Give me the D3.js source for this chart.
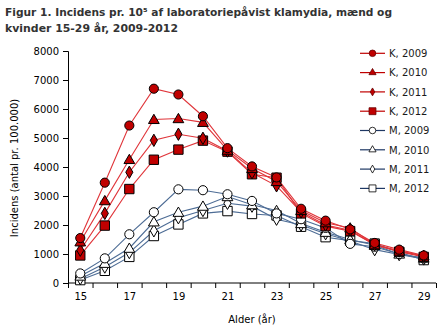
<!DOCTYPE html>
<html><head><meta charset="utf-8">
<script src="https://cdn.jsdelivr.net/npm/d3@7/dist/d3.min.js"></script>
<style>
body{margin:0;background:#fff;}
svg{display:block;font-family:"DejaVu Sans",Verdana,sans-serif;}
</style></head>
<body><svg id="c" width="440" height="331"></svg>
<script>
const ages = [15,16,17,18,19,20,21,22,23,24,25,26,27,28,29];
const yTicks = [0,1000,2000,3000,4000,5000,6000,7000,8000];
const xTickLabels = [15,17,19,21,23,25,27,29];
const seriesNames = ["K, 2009","K, 2010","K, 2011","K, 2012","M, 2009","M, 2010","M, 2011","M, 2012"];
const K2009 = [1550,3460,5430,6700,6500,5750,4650,4020,3640,2560,2150,1850,1380,1150,950];
const K2010 = [1420,2840,4260,5640,5670,5540,4580,3950,3500,2500,2080,1900,1320,1100,940];
const K2011 = [1130,2400,3820,4920,5130,4990,4550,3800,3350,2450,2000,1820,1320,1100,920];
const K2012 = [950,1980,3240,4250,4600,4910,4530,3750,3630,2400,1960,1790,1320,1080,900];
const M2009 = [330,850,1680,2440,3230,3200,3060,2830,2400,2200,1900,1350,1250,1000,850];
const M2010 = [240,680,1200,2110,2440,2650,2980,2700,2500,2050,1750,1500,1300,1000,860];
const M2011 = [150,550,1050,1800,2250,2500,2750,2650,2200,2000,1700,1450,1150,980,830];
const M2012 = [100,420,900,1620,2020,2400,2480,2380,2330,1940,1580,1460,1360,1060,790];
const allValues = [K2009,K2010,K2011,K2012,M2009,M2010,M2011,M2012];
const shapes = ["circle","triangle","diamond","square","circle","triangle","diamond","square"];

const svg = d3.select("#c");
const x = d3.scaleLinear().domain([14.5,29.5]).range([68,436]);
const y = d3.scaleLinear().domain([0,8000]).range([283,51]);

// title
svg.append("text").attr("fill","#333").attr("font-weight","bold").attr("font-size",10.5)
  .attr("x",5).attr("y",16).attr("textLength",387).attr("lengthAdjust","spacingAndGlyphs")
  .text("Figur 1. Incidens pr. 10⁵ af laboratoriepåvist klamydia, mænd og");
svg.append("text").attr("fill","#333").attr("font-weight","bold").attr("font-size",10.5)
  .attr("x",5).attr("y",32).attr("textLength",173).attr("lengthAdjust","spacingAndGlyphs")
  .text("kvinder 15-29 år, 2009-2012");

// y axis
const ya = svg.append("g").attr("transform","translate(68,0)")
  .call(d3.axisLeft(y).tickValues(yTicks).tickSize(5).tickPadding(4).tickFormat(d3.format("d")));
ya.select(".domain").attr("stroke","#000");
ya.selectAll(".tick line").attr("stroke","#000");
ya.selectAll("text").attr("font-size",10).attr("fill","#000").attr("font-family","DejaVu Sans");

// x axis
const edges = d3.range(14.5,29.6,1);
const xa = svg.append("g").attr("transform","translate(0,283)")
  .call(d3.axisBottom(x).tickValues(edges).tickSize(5).tickFormat(""));
xa.select(".domain").attr("stroke","#000").attr("d","M68,0H436");
xa.selectAll(".tick line").attr("stroke","#000");
const xl = svg.append("g").attr("transform","translate(0,283)")
  .call(d3.axisBottom(x).tickValues(xTickLabels).tickSize(0).tickPadding(10).tickFormat(d3.format("d")));
xl.select(".domain").remove();
xl.selectAll("text").attr("font-size",10).attr("fill","#000").attr("font-family","DejaVu Sans");

svg.append("text").attr("x",252).attr("y",323).attr("text-anchor","middle")
  .attr("font-size",10).attr("fill","#000").text("Alder (år)");
svg.append("text").attr("transform","translate(18,168) rotate(-90)").attr("text-anchor","middle")
  .attr("font-size",10).attr("fill","#000").text("Incidens (antal pr. 100.000)");

const symType = {circle:d3.symbolCircle,triangle:d3.symbolTriangle,diamond:d3.symbolDiamond,square:d3.symbolSquare};
const symSize = {circle:66,triangle:50,diamond:44,square:88};
const legSize = {circle:34,triangle:22,diamond:18,square:48};

const line = d3.line().x((d,i)=>x(ages[i])).y(d=>y(d));
const plot = svg.append("g");
// M series first (behind), then K
const order = [7,6,5,4,3,2,1,0];
order.forEach(si=>{
  const isK = si<4;
  plot.append("path").datum(allValues[si]).attr("d",line)
    .attr("fill","none").attr("stroke",isK?"#e0353a":"#4d6c95").attr("stroke-width",1.1);
});
order.forEach(si=>{
  const isK = si<4;
  const sh = shapes[si];
  plot.append("g").selectAll("path").data(allValues[si]).join("path")
    .attr("transform",(d,i)=>`translate(${x(ages[i])},${y(d)+(sh==="triangle"?1:0)})`)
    .attr("d",d3.symbol().type(symType[sh]).size(symSize[sh]))
    .attr("fill",isK?"#c00000":"#fff").attr("stroke","#000").attr("stroke-width",1);
});

// legend
const leg = svg.append("g");
seriesNames.forEach((nm,i)=>{
  const isK = i<4;
  const ly = 53.3 + i*19.3;
  leg.append("line").attr("x1",360).attr("x2",385).attr("y1",ly).attr("y2",ly)
    .attr("stroke",isK?"#c00000":"#1f3864").attr("stroke-width",1.2);
  leg.append("path").attr("transform",`translate(372.5,${ly})`)
    .attr("d",d3.symbol().type(symType[shapes[i]]).size(legSize[shapes[i]]))
    .attr("fill",isK?"#c00000":"#fff").attr("stroke",isK?"#600":"#000").attr("stroke-width",0.8);
  leg.append("text").attr("x",389).attr("y",ly+3.7).attr("font-size",10).attr("fill","#1a1a1a").text(nm);
});
</script></body></html>
